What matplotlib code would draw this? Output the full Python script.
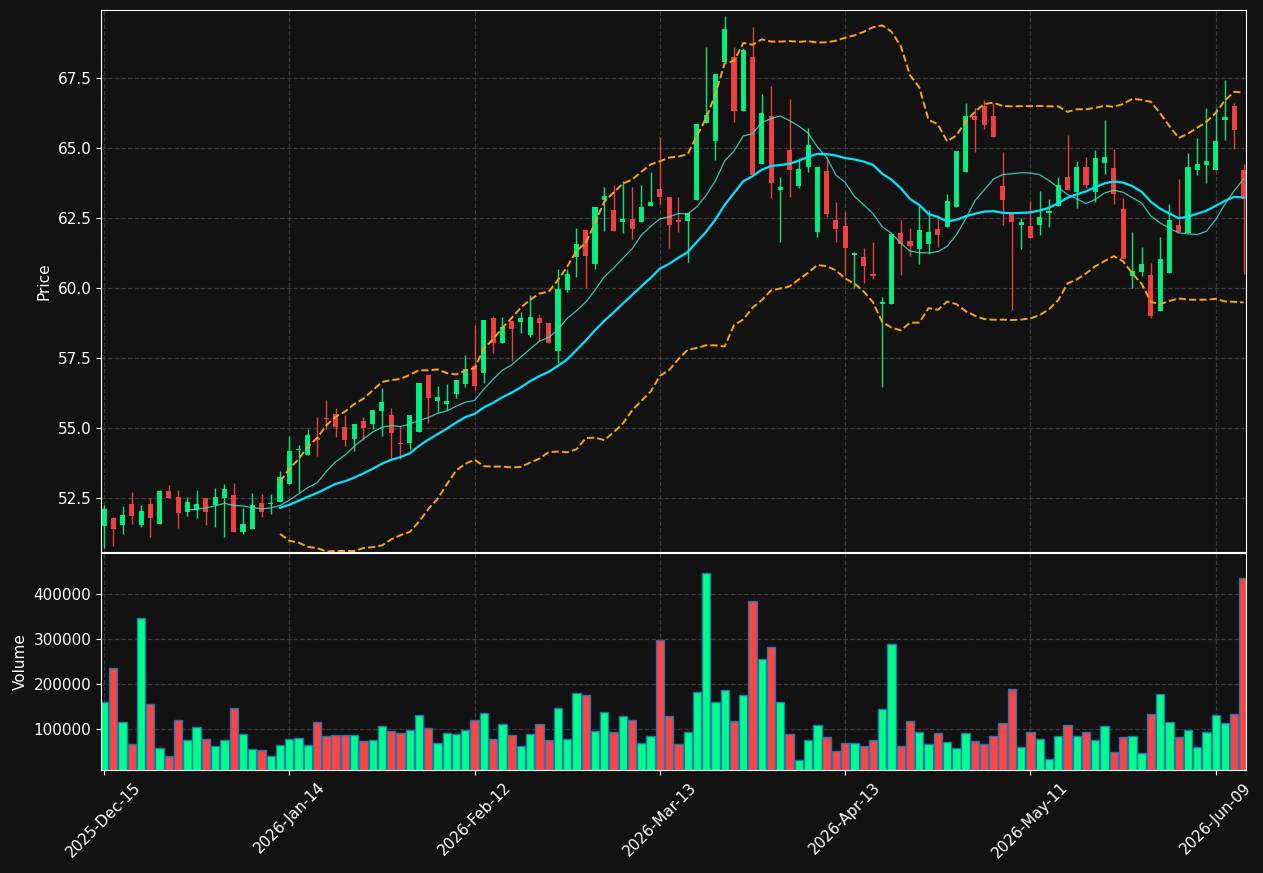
import numpy as np
import pandas as pd
import matplotlib
matplotlib.use("Agg")
import matplotlib.pyplot as plt
from matplotlib.ticker import MultipleLocator, FormatStrFormatter

# trading days (NYSE holidays removed)
holidays = ["2025-12-25", "2026-01-01", "2026-01-19", "2026-02-16", "2026-04-03", "2026-05-25"]
days = pd.bdate_range("2025-12-15", "2026-06-12")
days = days[~days.isin(pd.to_datetime(holidays))]

opens = [51.51, 51.77, 51.55, 52.29, 51.55, 52.29, 51.58, 52.75, 52.54, 52.01,
         52.07, 52.49, 52.24, 52.51, 52.61, 51.30, 51.40, 52.32, 52.27, 52.37,
         53.01, 54.20, 54.05, 54.64, 55.37, 55.49, 55.04, 54.62, 55.25, 55.15,
         55.62, 55.45, 54.46, 54.48, 54.87, 56.88, 55.98, 55.86, 56.21, 56.57,
         57.21, 56.98, 58.93, 58.05, 58.81, 58.80, 58.32, 58.93, 58.74, 57.73,
         59.93, 61.12, 62.07, 60.86, 63.14, 62.79, 62.36, 62.46, 62.36, 62.94,
         63.54, 63.24, 62.43, 62.40, 63.15, 65.88, 65.26, 68.08, 68.24, 66.32,
         68.23, 64.43, 66.14, 63.51, 64.93, 63.65, 64.33, 62.01, 64.18, 62.43,
         62.22, 61.19, 61.10, 60.48, 59.44, 59.44, 61.95, 61.68, 61.40, 61.58,
         62.11, 62.19, 62.90, 64.15, 66.14, 66.48, 66.14, 63.64, 62.67, 62.23,
         62.21, 62.23, 62.69, 62.94, 63.95, 63.43, 64.32, 63.44, 64.46, 64.27,
         62.82, 60.44, 60.57, 60.45, 59.18, 60.55, 62.25, 61.95, 64.21, 64.39,
         64.21, 65.98, 66.51, 64.21]
highs = [52.25, 51.83, 52.21, 52.70, 52.24, 52.49, 52.79, 52.96, 52.79, 52.52,
         52.79, 52.49, 52.85, 52.99, 53.02, 52.13, 52.67, 52.63, 52.63, 53.48,
         54.71, 54.39, 54.95, 55.40, 56.00, 55.70, 55.45, 55.13, 55.38, 55.64,
         56.42, 55.70, 55.07, 55.45, 56.60, 56.88, 56.49, 56.56, 56.71, 57.61,
         58.68, 58.86, 58.98, 58.95, 58.81, 59.15, 59.75, 59.07, 58.74, 60.67,
         60.67, 62.13, 62.07, 62.88, 63.60, 63.68, 63.83, 63.60, 63.68, 64.13,
         65.40, 63.24, 63.24, 62.69, 65.86, 68.60, 67.64, 69.71, 68.62, 68.56,
         69.33, 66.92, 67.20, 63.95, 66.74, 64.63, 65.70, 64.31, 64.69, 63.08,
         62.70, 61.30, 61.44, 61.65, 59.69, 61.93, 62.43, 62.13, 62.94, 62.79,
         62.61, 63.35, 64.89, 66.62, 66.42, 66.71, 66.62, 64.87, 62.67, 62.51,
         63.09, 63.46, 63.17, 63.95, 65.46, 64.55, 64.67, 64.93, 65.98, 64.95,
         63.20, 62.01, 61.45, 60.88, 61.81, 62.99, 63.88, 64.81, 65.35, 66.44,
         66.43, 67.43, 66.60, 64.43]
lows = [50.70, 50.80, 51.20, 51.56, 51.45, 51.10, 51.58, 52.51, 51.42, 51.85,
        51.80, 51.52, 51.45, 51.12, 51.30, 51.20, 51.40, 51.81, 51.93, 52.37,
        53.01, 52.73, 54.05, 54.00, 54.98, 54.69, 54.37, 54.17, 54.56, 54.95,
        54.71, 53.92, 53.88, 54.24, 54.87, 55.17, 55.58, 55.64, 56.08, 56.48,
        56.36, 56.60, 57.67, 58.05, 57.40, 58.38, 58.26, 58.12, 58.02, 57.31,
        59.85, 60.40, 59.99, 60.67, 62.05, 62.04, 61.95, 61.74, 62.36, 62.94,
        62.99, 61.42, 61.98, 60.94, 63.15, 65.88, 64.57, 68.08, 65.92, 66.32,
        64.04, 64.43, 63.20, 61.63, 63.23, 63.58, 64.15, 61.81, 62.55, 61.65,
        60.47, 59.99, 60.19, 60.31, 56.45, 59.44, 60.45, 61.14, 60.85, 61.20,
        61.46, 62.19, 62.90, 64.15, 64.87, 65.67, 65.40, 62.25, 59.21, 61.38,
        61.80, 61.88, 62.19, 62.94, 63.48, 62.85, 63.56, 63.07, 64.07, 63.00,
        61.05, 59.99, 60.44, 58.94, 59.18, 60.55, 61.99, 61.95, 64.04, 63.74,
        64.21, 65.29, 64.95, 60.50]
closes = [52.10, 51.40, 51.89, 51.87, 52.04, 51.80, 52.75, 52.51, 51.98, 52.36,
          52.29, 52.01, 52.54, 52.81, 51.30, 51.56, 52.24, 52.01, 52.32, 53.24,
          54.18, 54.25, 54.75, 54.58, 55.33, 55.05, 54.58, 55.13, 55.01, 55.64,
          55.93, 54.83, 54.44, 55.45, 56.60, 56.08, 56.11, 55.96, 56.71, 57.11,
          56.50, 58.86, 58.05, 58.60, 58.55, 58.93, 58.95, 58.73, 58.02, 59.95,
          60.50, 61.57, 61.14, 62.88, 63.29, 62.04, 62.46, 62.11, 62.89, 63.07,
          63.23, 62.25, 62.37, 62.69, 65.86, 66.18, 67.64, 69.25, 66.32, 68.48,
          64.04, 66.25, 63.76, 63.61, 64.21, 64.25, 65.11, 64.31, 62.64, 62.11,
          61.44, 61.25, 60.80, 60.44, 59.50, 61.93, 61.56, 61.51, 62.07, 62.00,
          61.90, 63.11, 64.89, 66.14, 66.00, 65.82, 65.40, 63.14, 62.37, 62.36,
          61.80, 62.54, 62.75, 63.68, 63.48, 64.32, 63.68, 64.63, 64.68, 63.35,
          61.05, 60.61, 60.86, 59.00, 61.04, 62.43, 61.99, 64.31, 64.42, 64.54,
          65.25, 66.12, 65.64, 63.17]
volumes = [158700, 234000, 114600, 66100, 346000, 154300, 57300, 39600, 119000, 74900,
           103600, 77100, 61700, 74900, 145500, 88200, 55100, 52900, 41100, 63900,
           77100, 79300, 63900, 114600, 83700, 86000, 86000, 86000, 72700, 74900,
           105800, 94800, 90400, 97000, 130000, 101400, 68300, 90400, 88200, 97000,
           119000, 134500, 77100, 110200, 86000, 61700, 88200, 110200, 74900, 145500,
           77100, 180800, 176400, 94800, 136700, 92600, 127900, 119000, 68300, 83700,
           297700, 127900, 66100, 92600, 183000, 445500, 158700, 187400, 116800, 176400,
           383700, 255800, 282300, 158700, 88200, 30800, 74900, 107900, 81500, 50700,
           68300, 68300, 61700, 74900, 143300, 288900, 61700, 116800, 92600, 66100,
           90400, 70500, 57300, 90400, 72700, 66100, 83700, 112400, 189600, 59500,
           92600, 77100, 33000, 83700, 107900, 83700, 92600, 74900, 105800, 48500,
           81500, 83700, 46200, 132300, 178600, 114600, 81500, 97000, 59500, 92600,
           130100, 112400, 132300, 434500]

df = pd.DataFrame({"Open": opens, "High": highs, "Low": lows, "Close": closes,
                   "Volume": volumes}, index=days)
df["MA10"] = df["Close"].rolling(10).mean()
df["MA20"] = df["Close"].rolling(20).mean()
std20 = df["Close"].rolling(20).std(ddof=0)
df["Upper"] = df["MA20"] + 2 * std20
df["Lower"] = df["MA20"] - 2 * std20

bg = "#121212"
up_c = "#00ff88"
dn_c = "#ff4444"
x = np.arange(len(df))
up = df["Close"] >= df["Open"]
cols = np.where(up, up_c, dn_c)

plt.rcParams["text.color"] = "white"
plt.rcParams["axes.labelcolor"] = "white"
plt.rcParams["xtick.color"] = "white"
plt.rcParams["ytick.color"] = "white"
plt.rcParams["font.size"] = 11

fig = plt.figure(figsize=(12.63, 8.73), dpi=100, facecolor=bg)
ax = fig.add_axes([0.080, 0.3677, 0.9065, 0.621])
axv = fig.add_axes([0.080, 0.118, 0.9065, 0.2487], sharex=ax)

for a in (ax, axv):
    a.set_facecolor(bg)
    for s in a.spines.values():
        s.set_color("white")
    a.grid(True, color="#3a3a3a", linestyle="--", linewidth=0.9)
    a.set_axisbelow(True)

# candles
ax.vlines(x, df["Low"], df["High"], colors=cols, linewidth=1, alpha=0.9)
body_lo = np.minimum(df["Open"], df["Close"])
body_h = np.maximum(np.abs(df["Close"] - df["Open"]), 0.02)
ax.bar(x, body_h, bottom=body_lo, width=0.55, color=cols, alpha=0.9, linewidth=0)

ax.plot(x, df["MA10"], color="#40e0d0", linewidth=0.9, alpha=0.85)
ax.plot(x, df["MA20"], color="#00e5ff", linewidth=1.6)
ax.plot(x, df["Upper"], color="orange", linestyle="--", linewidth=1.4)
ax.plot(x, df["Lower"], color="orange", linestyle="--", linewidth=1.4)

ax.set_ylim(50.57, 69.93)
ax.yaxis.set_major_locator(MultipleLocator(2.5))
ax.yaxis.set_major_formatter(FormatStrFormatter("%.1f"))
ax.set_ylabel("Price")
ax.tick_params(axis="x", length=0, labelbottom=False)

# volume
axv.bar(x, df["Volume"], width=0.9, color=cols, edgecolor="#1f77b4", linewidth=1)
axv.set_ylim(0.3 * min(volumes), 1.1 * max(volumes))
axv.yaxis.set_major_locator(MultipleLocator(100000))
axv.ticklabel_format(style="plain", axis="y")
axv.set_ylabel("Volume")

tick_pos = list(range(0, len(df), 20))
tick_labels = [days[i].strftime("%Y-%b-%d") for i in tick_pos]
axv.set_xticks(tick_pos)
axv.set_xticklabels(tick_labels, rotation=45, ha="center")
axv.set_xlim(-0.32, 123.26)

fig.savefig("out.png", dpi=100, facecolor=bg)
